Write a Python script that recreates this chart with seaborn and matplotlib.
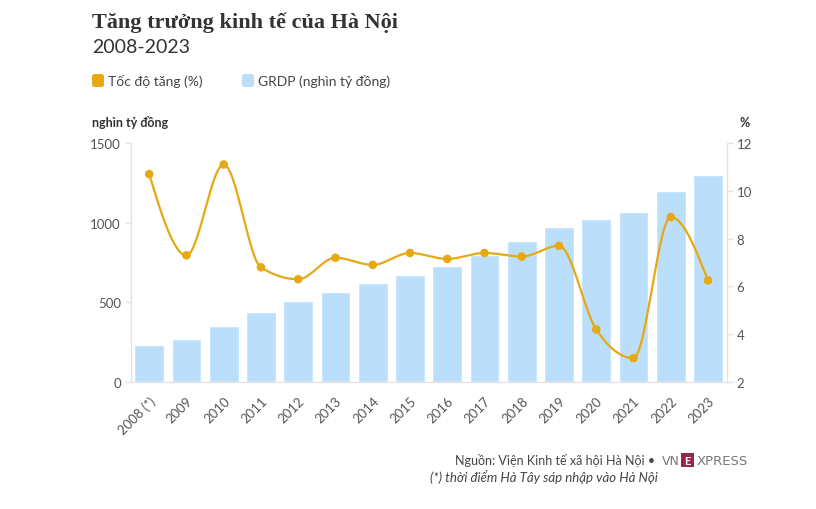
import numpy as np
import pandas as pd
import matplotlib
matplotlib.use("Agg")
import matplotlib.pyplot as plt
import seaborn as sns
from matplotlib.patches import FancyBboxPatch

# data
years = ["2008 (*)", "2009", "2010", "2011", "2012", "2013", "2014", "2015",
         "2016", "2017", "2018", "2019", "2020", "2021", "2022", "2023"]
grdp = [235, 270, 353, 441, 508, 567, 623, 673, 730, 800, 883, 975, 1021, 1069, 1199, 1299]
growth = [10.7, 7.3, 11.1, 6.8, 6.3, 7.2, 6.9, 7.4, 7.15, 7.4, 7.25, 7.7, 4.2, 3.0, 8.9, 6.25]

bar_color = "#BBDFFB"
line_color = "#E6A813"
axis_color = "#E3E3E3"
text_color = "#333333"
tick_color = "#555555"


def monotone_curve(x, y, n=30):
    # monotone cubic (like d3 curveMonotoneX) just for drawing the smooth line
    x = np.asarray(x, float)
    y = np.asarray(y, float)
    h = np.diff(x)
    s = np.diff(y) / h
    t = np.zeros(len(x))
    for i in range(1, len(x) - 1):
        p = (s[i - 1] * h[i] + s[i] * h[i - 1]) / (h[i - 1] + h[i])
        t[i] = (np.sign(s[i - 1]) + np.sign(s[i])) * min(abs(s[i - 1]), abs(s[i]), 0.5 * abs(p))
    t[0] = (3 * s[0] - t[1]) / 2
    t[-1] = (3 * s[-1] - t[-2]) / 2
    xs, ys = [], []
    for i in range(len(x) - 1):
        u = np.linspace(0, 1, n, endpoint=False)
        h00 = 2 * u**3 - 3 * u**2 + 1
        h10 = u**3 - 2 * u**2 + u
        h01 = -2 * u**3 + 3 * u**2
        h11 = u**3 - u**2
        xs.append(x[i] + u * h[i])
        ys.append(h00 * y[i] + h10 * h[i] * t[i] + h01 * y[i + 1] + h11 * h[i] * t[i + 1])
    xs.append([x[-1]])
    ys.append([y[-1]])
    return np.concatenate(xs), np.concatenate(ys)


sns.set_style("white")
plt.rcParams["font.family"] = ["Lato", "DejaVu Sans"]

df = pd.DataFrame({"year": years, "grdp": grdp, "growth": growth})
df["pos"] = np.arange(len(years))

fig = plt.figure(figsize=(8.16, 5.1), dpi=100)
ax = fig.add_axes([0.160, 0.249, 0.7305, 0.4686])

sns.barplot(data=df, x="year", y="grdp", color=bar_color, width=0.8,
            saturation=1, ax=ax, zorder=1)
ax.set_xlim(-0.5, len(years) - 0.5)
ax.set_ylim(0, 1500)
ax.set_yticks([0, 500, 1000, 1500])
ax.set_xlabel("")
ax.set_ylabel("")

ax2 = ax.twinx()
cx, cy = monotone_curve(df["pos"], df["growth"])
ax2.plot(cx, cy, color=line_color, lw=1.6, zorder=3)
sns.scatterplot(data=df, x="pos", y="growth", color=line_color, s=38,
                edgecolor="none", ax=ax2, zorder=4)
ax2.set_ylim(2, 12)
ax2.set_yticks([2, 4, 6, 8, 10, 12])
ax2.set_xlim(-0.5, len(years) - 0.5)
ax2.set_ylabel("")

for a in (ax, ax2):
    for sp in a.spines.values():
        sp.set_color(axis_color)
        sp.set_linewidth(1)
    a.spines["top"].set_visible(False)
    a.tick_params(colors=axis_color, labelcolor=tick_color, labelsize=9.5, length=4, width=1)

ax.spines["right"].set_visible(False)
ax2.spines["left"].set_visible(False)
ax2.spines["bottom"].set_visible(False)
ax.tick_params(axis="y", pad=3)
ax2.tick_params(axis="y", pad=3)
ax.set_xticks(range(len(years)))
ax.set_xticklabels(years, rotation=45, ha="right", rotation_mode="anchor")
ax.tick_params(axis="x", pad=4, length=5)

# titles
fig.text(92 / 816, 1 - 28 / 510, "Tăng trưởng kinh tế của Hà Nội",
         family=["Liberation Serif"], weight="bold", fontsize=16, color=text_color, va="baseline")
fig.text(92 / 816, 1 - 53 / 510, "2008-2023", fontsize=14, color=text_color, va="baseline")

# legend
for x0, col, label in [(92, line_color, "Tốc độ tăng (%)"), (242, bar_color, "GRDP (nghìn tỷ đồng)")]:
    fig.patches.append(FancyBboxPatch((x0 / 816, 1 - 88 / 510), 12 / 816, 13 / 510,
                                      boxstyle="round,pad=0,rounding_size=0.004",
                                      transform=fig.transFigure, color=col, lw=0))
    fig.text((x0 + 16) / 816, 1 - 86 / 510, label, fontsize=10, color="#444444", va="baseline")

fig.text(92 / 816, 1 - 127 / 510, "nghìn tỷ đồng", fontsize=9, weight="bold",
         color=text_color, va="baseline")
fig.text(740 / 816, 1 - 127 / 510, "%", fontsize=9, weight="bold", color=text_color, va="baseline")

# source
fig.text(655 / 816, 1 - 465 / 510, "Nguồn: Viện Kinh tế xã hội Hà Nội •", fontsize=9,
         color="#444444", ha="right", va="baseline")
fig.text(662 / 816, 1 - 465 / 510, "VN", fontsize=9, family=["DejaVu Sans"],
         color="#777777", va="baseline")
fig.patches.append(plt.Rectangle((681 / 816, 1 - 468 / 510), 13 / 816, 14 / 510,
                                 transform=fig.transFigure, color="#9F224E", lw=0))
fig.text(687.5 / 816, 1 - 465.5 / 510, "E", fontsize=8, color="white", ha="center",
         va="baseline", weight="bold")
fig.text(697 / 816, 1 - 465 / 510, "XPRESS", fontsize=9.5, family=["DejaVu Sans"],
         color="#777777", va="baseline")
fig.text(658 / 816, 1 - 482 / 510, "(*) thời điểm Hà Tây sáp nhập vào Hà Nội", fontsize=9.5,
         style="italic", color="#444444", ha="right", va="baseline")

fig.savefig("out.png", dpi=100)
